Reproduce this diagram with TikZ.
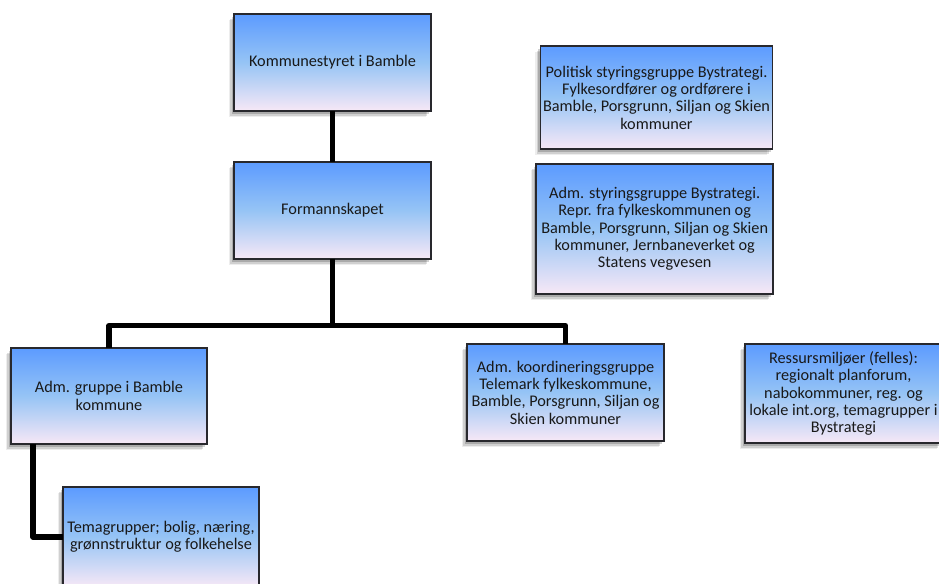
\documentclass[tikz,border=0pt]{standalone}
\usepackage{fontspec}
\setmainfont{Carlito}
\usetikzlibrary{shadows}
\definecolor{gtop}{RGB}{92,155,255}
\definecolor{gmid}{RGB}{150,196,245}
\definecolor{gbot}{RGB}{247,232,246}
\definecolor{edge}{RGB}{40,40,45}
\definecolor{txt}{RGB}{25,25,25}
\tikzset{
  orgbox/.style={draw=edge, line width=1.1pt, inner sep=2pt, outer sep=0pt,
    top color=gtop, bottom color=gbot, middle color=gmid,
    text=txt, align=center,
    font=\fontsize{12.2}{13}\selectfont,
    drop shadow={shadow xshift=-4pt, shadow yshift=-4.5pt, opacity=0.07, fill=black},
    drop shadow={shadow xshift=-2.8pt, shadow yshift=-3.4pt, opacity=0.12, fill=black},
    drop shadow={shadow xshift=-1.5pt, shadow yshift=-2.2pt, opacity=0.18, fill=black}},
  conn/.style={draw=black, line width=3.8pt, line join=round}
}
\begin{document}
\begin{tikzpicture}[x=0.75pt, y=-0.75pt]
\useasboundingbox (0,0) rectangle (939,584);
\node[orgbox, minimum width=147.75pt, minimum height=72.75pt] (k) at (332.5,62.5) {Kommunestyret i Bamble};
\node[orgbox, minimum width=147.75pt, minimum height=72.75pt] (f) at (332.5,210.5) {Formannskapet};
\node[orgbox, minimum width=173.25pt, minimum height=77.25pt] (p) at (656.5,97.5) {Politisk styringsgruppe Bystrategi.\\Fylkesordfører og ordførere i\\Bamble, Porsgrunn, Siljan og Skien\\kommuner};
\node[orgbox, minimum width=177.75pt, minimum height=97.5pt] (s) at (654.7,229) {Adm. styringsgruppe Bystrategi.\\Repr. fra fylkeskommunen og\\Bamble, Porsgrunn, Siljan og Skien\\kommuner, Jernbaneverket og\\Statens vegvesen};
\node[orgbox, minimum width=147pt, minimum height=72pt] (a) at (109,396) {Adm. gruppe i Bamble\\kommune};
\node[orgbox, minimum width=147.75pt, minimum height=72.75pt] (c) at (565.5,392.5) {Adm. koordineringsgruppe\\Telemark fylkeskommune,\\Bamble, Porsgrunn, Siljan og\\Skien kommuner};
\node[orgbox, minimum width=147.75pt, minimum height=74.25pt] (r) at (843.5,393.5) {Ressursmiljøer (felles):\\regionalt planforum,\\nabokommuner, reg. og\\lokale int.org, temagrupper i\\Bystrategi};
\node[orgbox, minimum width=147pt, minimum height=75pt] (t) at (161,537) {Temagrupper; bolig, næring,\\grønnstruktur og folkehelse};
\coordinate (bus) at (332.5,325.5);
\draw[conn] (k.south) -- (f.north);
\draw[conn] (f.south) -- (bus);
\draw[conn] (a.north) |- (bus) -| (c.north);
\draw[conn] ([xshift=16.5pt]a.south west) |- (t.west);
\end{tikzpicture}
\end{document}
